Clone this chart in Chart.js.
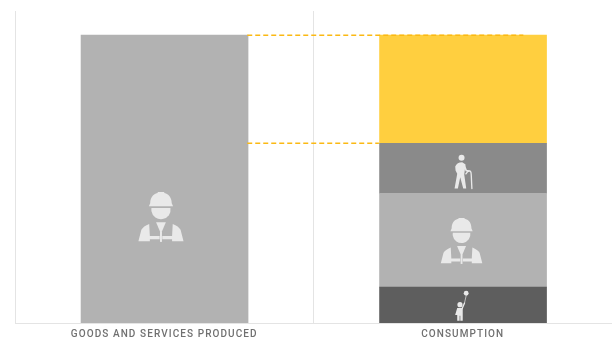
<!DOCTYPE html>
<html>
<head>
<meta charset="utf-8">
<script src="https://cdn.jsdelivr.net/npm/chart.js@4"></script>
<style>
body { margin: 0; background: #fff; overflow: hidden; }
canvas { display: block; }
</style>
</head>
<body>
<canvas id="myChart" width="612" height="338"></canvas>
<script>
var categories = ["GOODS AND SERVICES PRODUCED", "CONSUMPTION"];
var barPositions = [0.501, 1.501];
var childValues = [null, 11.5];
var workerValues = [92.3, 30.1];
var elderlyValues = [null, 16];
var surplusValues = [null, 34.7];

// connectors between the two bars
var topConnectorX = [0.778, 1.703];
var topConnectorY = [92.2, 92.2];
var lowerConnectorX = [0.778, 1.219];
var lowerConnectorY = [57.6, 57.6];

// icon centre on the x axis, icon centre on the y axis, icon height
var iconNames = ["worker", "worker", "elderly", "child"];
var iconX = [0.489, 1.496, 1.496, 1.493];
var iconValue = [34, 26.3, 48.4, 5.5];
var iconHeight = [50, 46, 35, 30];

var iconDraw = {
    worker: { h: 153, draw: function (ctx) {
        ctx.beginPath();
        ctx.moveTo(-33, 35);
        ctx.bezierCurveTo(-33, 12, -18, 4, -10, 3);
        ctx.lineTo(-10, 0);
        ctx.lineTo(10, 0);
        ctx.lineTo(10, 3);
        ctx.bezierCurveTo(18, 4, 33, 12, 33, 35);
        ctx.lineTo(37, 44);
        ctx.lineTo(-37, 44);
        ctx.closePath();
        ctx.fill();
        ctx.beginPath();
        ctx.moveTo(-29, 49);
        ctx.lineTo(29, 49);
        ctx.arc(0, 54, 29.5, -0.17, Math.PI + 0.17);
        ctx.closePath();
        ctx.fill();
        ctx.beginPath();
        ctx.moveTo(-15, 93);
        ctx.lineTo(15, 93);
        ctx.lineTo(0, 128);
        ctx.closePath();
        ctx.fill();
        [-1, 1].forEach(function (s) {
            ctx.beginPath();
            ctx.moveTo(s * 69, 151);
            ctx.lineTo(s * 60, 116);
            ctx.quadraticCurveTo(s * 54, 105, s * 36, 98);
            ctx.lineTo(s * 34, 135);
            ctx.lineTo(s * 4, 135);
            ctx.lineTo(s * 4, 145);
            ctx.lineTo(s * 34, 145);
            ctx.lineTo(s * 34, 151);
            ctx.closePath();
            ctx.fill();
        });
        ctx.fillRect(-3, 122, 6, 31);
    } },
    elderly: { h: 105, draw: function (ctx) {
        ctx.beginPath();
        ctx.arc(0, 10, 9, 0, Math.PI * 2);
        ctx.fill();
        ctx.beginPath();
        ctx.moveTo(-18, 48);
        ctx.lineTo(-19, 36);
        ctx.quadraticCurveTo(-14, 23, 2, 23);
        ctx.lineTo(12, 30);
        ctx.lineTo(8, 60);
        ctx.lineTo(14, 102);
        ctx.lineTo(5, 102);
        ctx.lineTo(-4, 68);
        ctx.lineTo(-11, 102);
        ctx.lineTo(-21, 102);
        ctx.lineTo(-13, 58);
        ctx.closePath();
        ctx.fill();
        ctx.lineCap = "round";
        ctx.lineWidth = 5;
        ctx.beginPath();
        ctx.moveTo(7, 30);
        ctx.lineTo(14, 48);
        ctx.lineTo(22, 50);
        ctx.stroke();
        ctx.lineWidth = 4;
        ctx.beginPath();
        ctx.moveTo(13, 58);
        ctx.quadraticCurveTo(20, 47, 26, 50);
        ctx.quadraticCurveTo(29, 52, 29, 60);
        ctx.lineTo(31, 102);
        ctx.stroke();
    } },
    child: { h: 87, draw: function (ctx) {
        ctx.beginPath();
        ctx.arc(16, 7, 7, 0, Math.PI * 2);
        ctx.fill();
        ctx.beginPath();
        ctx.arc(-2, 40, 7.5, 0, Math.PI * 2);
        ctx.fill();
        ctx.lineCap = "round";
        ctx.lineWidth = 2;
        ctx.beginPath();
        ctx.moveTo(16, 14);
        ctx.lineTo(11, 36);
        ctx.stroke();
        ctx.lineWidth = 4;
        ctx.beginPath();
        ctx.moveTo(4, 52);
        ctx.lineTo(11, 36);
        ctx.stroke();
        ctx.beginPath();
        ctx.moveTo(-10, 50);
        ctx.lineTo(6, 50);
        ctx.lineTo(6, 87);
        ctx.lineTo(-1, 87);
        ctx.lineTo(-1, 72);
        ctx.lineTo(-3, 72);
        ctx.lineTo(-3, 87);
        ctx.lineTo(-10, 87);
        ctx.lineTo(-10, 70);
        ctx.lineTo(-16, 70);
        ctx.closePath();
        ctx.fill();
    } }
};

var figuresPlugin = {
    id: "figures",
    beforeDraw: function (chart) {
        chart.ctx.letterSpacing = "1.08px";
    },
    afterDatasetsDraw: function (chart) {
        var ctx = chart.ctx;
        for (var i = 0; i < iconNames.length; i++) {
            var icon = iconDraw[iconNames[i]];
            var scale = iconHeight[i] / icon.h;
            ctx.save();
            ctx.translate(chart.scales.x.getPixelForValue(iconX[i]),
                chart.scales.y.getPixelForValue(iconValue[i]) - iconHeight[i] / 2);
            ctx.scale(scale, scale);
            ctx.fillStyle = "#e9e9e9";
            ctx.strokeStyle = "#e9e9e9";
            icon.draw(ctx);
            ctx.restore();
        }
    }
};

function toPoints(xs, ys) {
    var points = [];
    for (var i = 0; i < xs.length; i++) {
        points.push({ x: xs[i], y: ys[i] });
    }
    return points;
}

function connector(xs, ys, stack) {
    return {
        type: "line",
        stack: stack,
        order: 0,
        data: toPoints(xs, ys),
        borderColor: "#fbb914",
        borderWidth: 1.5,
        borderDash: [5, 3],
        pointRadius: 0
    };
}

function segment(values, color) {
    return {
        type: "bar",
        order: 1,
        stack: "bars",
        data: toPoints(barPositions, values),
        backgroundColor: color,
        borderWidth: 0,
        barThickness: 167
    };
}

var myChart = new Chart(document.getElementById("myChart"), {
    data: {
        datasets: [
            segment(childValues, "#5e5e5e"),
            segment(workerValues, "#b2b2b2"),
            segment(elderlyValues, "#8a8a8a"),
            segment(surplusValues, "#ffcf3f"),
            connector(topConnectorX, topConnectorY, "top"),
            connector(lowerConnectorX, lowerConnectorY, "lower")
        ]
    },
    options: {
        responsive: false,
        animation: false,
        layout: { padding: { left: 15, top: 11, right: -2 } },
        plugins: {
            legend: { display: false },
            tooltip: { enabled: false }
        },
        scales: {
            x: {
                type: "linear",
                stacked: true,
                offset: false,
                min: 0,
                max: 2,
                afterFit: function (scale) {
                    scale.height = 15;
                    scale.paddingLeft = 0;
                    scale.paddingRight = 0;
                },
                grid: {
                    offset: false,
                    drawTicks: false,
                    color: function (ctx) {
                        return ctx.tick && !Number.isInteger(ctx.tick.value) ? "rgba(0,0,0,0)" : "#e4e4e4";
                    }
                },
                border: { color: "#e4e4e4" },
                ticks: {
                    color: "#707070",
                    padding: 5,
                    stepSize: 0.5,
                    autoSkip: false,
                    maxRotation: 0,
                    font: { family: "Roboto", size: 10, weight: "500" },
                    callback: function (value) {
                        return Number.isInteger(value) ? "" : categories[Math.floor(value)];
                    }
                }
            },
            y: { stacked: true, display: false, min: 0, max: 100 }
        }
    },
    plugins: [figuresPlugin]
});
</script>
</body>
</html>
